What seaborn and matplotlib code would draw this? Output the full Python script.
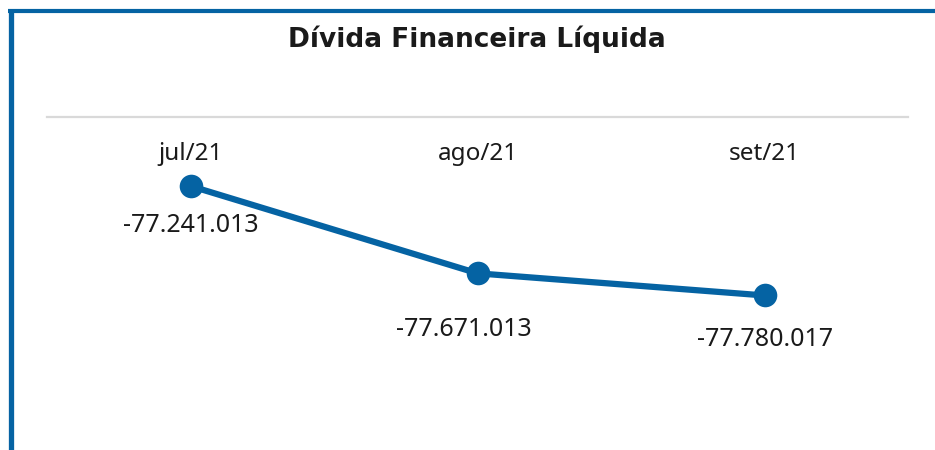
"""
Recreate the 'Dívida Financeira Líquida' line chart.
"""

import matplotlib
matplotlib.use("Agg")
import matplotlib.pyplot as plt
import seaborn as sns
import pandas as pd
from matplotlib.lines import Line2D

# data
months = ["jul/21", "ago/21", "set/21"]
divida = [-77241013, -77671013, -77780017]
label_offsets = [(0, -46), (-14, -63), (1, -51)]  # pixels, to label baselines

BLUE = "#0563a3"
TEXT = "#1a1a1a"

sns.set_theme(style="white")
plt.rcParams["font.family"] = ["Noto Sans", "DejaVu Sans"]

df = pd.DataFrame({"mes": months, "valor": divida})
df["pos"] = range(len(df))

fig = plt.figure(figsize=(9.35, 4.5), dpi=100)
ax = fig.add_axes([47 / 935, 10 / 450, 861 / 935, 323 / 450])

sns.lineplot(data=df, x="pos", y="valor", ax=ax, color=BLUE, lw=4.5,
             marker="o", markersize=17, markeredgewidth=0, sort=False)

ax.set_xlim(-0.5, 2.5)
ax.set_ylim(-78492000, -76901000)
ax.set_xticks([])
ax.set_yticks([])
ax.set_xlabel("")
ax.set_ylabel("")
for s in ["left", "right", "bottom"]:
    ax.spines[s].set_visible(False)
ax.spines["top"].set_color("#d9d9d9")
ax.spines["top"].set_linewidth(1.6)

# category labels just below the axis line (baseline ~43 px under it)
for i, m in enumerate(months):
    ax.text(i, 1 - 43 / 323, m, transform=ax.get_xaxis_transform(),
            ha="center", va="baseline", fontsize=17.5, color=TEXT)

# data labels under each point
for i, v in enumerate(divida):
    txt = f"{v:,}".replace(",", ".")
    dx, dy = label_offsets[i]
    ax.annotate(txt, (i, v), xytext=(dx * 0.72, dy * 0.72),
                textcoords="offset points", ha="center", va="baseline",
                fontsize=18, color=TEXT)

fig.text(477 / 935, 1 - 47 / 450, "Dívida Financeira Líquida",
         ha="center", va="baseline", fontsize=19, fontweight="bold",
         family="DejaVu Sans", color=TEXT)

# blue frame on the left and top
fig.add_artist(Line2D([10.5 / 935, 10.5 / 935], [0, 1 - 9 / 450],
                      transform=fig.transFigure, color=BLUE, lw=3.8,
                      solid_capstyle="butt"))
fig.add_artist(Line2D([8 / 935, 1], [1 - 10.5 / 450, 1 - 10.5 / 450],
                      transform=fig.transFigure, color=BLUE, lw=3.0,
                      solid_capstyle="butt"))

fig.savefig("out.png", dpi=100)
